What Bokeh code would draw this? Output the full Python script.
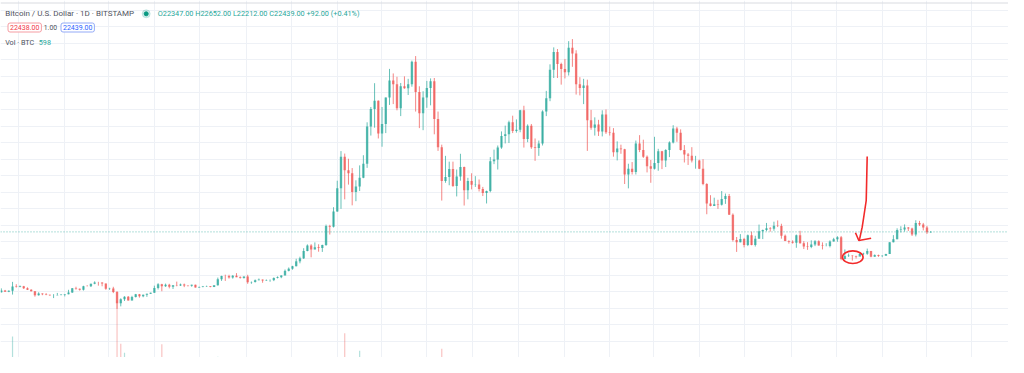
from datetime import date
from bokeh.plotting import figure
from bokeh.models import Range1d, ColumnDataSource, Grid, FixedTicker, Span, Label
from bokeh.embed import file_html
from bokeh.resources import INLINE

# ---------------- data (BTC/USD, Bitstamp; 5-day candles) ----------------
start_date = date(2019, 10, 7)
candle_days = 5
first_open = 7870
closes = [8270, 8000, 8230, 9250, 9150, 9320, 8800, 8460, 8100, 7150,
          7560, 7400, 7230, 7120, 7150, 7200, 7260, 7350, 7820, 8820,
          8700, 8440, 9300, 9290, 9900, 10240, 10190, 9980, 8700, 8760,
          7930, 5200, 6200, 6750, 5880, 6730, 7350, 6870, 7260, 7500,
          7770, 8900, 9810, 9320, 9680, 9180, 9570, 9520, 9750, 9470,
          9440, 9680, 9010, 9120, 9260, 9280, 9150, 9530, 10990, 11800,
          11760, 11400, 11850, 11500, 11330, 11650, 10260, 10340, 10780, 10920,
          10690, 10780, 10790, 11300, 11500, 11920, 13030, 13550, 14150, 15330,
          16050, 17800, 19150, 18200, 18700, 18550, 19280, 23850, 23700, 27350,
          32950, 40600, 37300, 36600, 32100, 33400, 35500, 38900, 47900, 52100,
          54100, 46200, 48500, 54900, 59000, 58100, 52300, 57600, 57100, 58100,
          63500, 56200, 51100, 54900, 57200, 58800, 49700, 42900, 34700, 35700,
          37600, 33500, 35800, 38100, 32500, 34700, 33800, 33900, 32800, 31800,
          32300, 39500, 39900, 42800, 45600, 46000, 48900, 46800, 47100, 51800,
          44900, 48100, 42900, 42700, 43800, 51500, 54700, 61600, 65900, 63000,
          61800, 61000, 66900, 65500, 58100, 57200, 57800, 49400, 47600, 48400,
          46700, 50800, 46500, 46400, 41700, 42600, 42400, 36300, 37700, 36900,
          43800, 42200, 40600, 38300, 37700, 39100, 41900, 39700, 42200, 44000,
          47400, 46400, 42200, 41100, 40800, 39700, 39700, 37700, 34000, 29300,
          28700, 29100, 29000, 30400, 31100, 26600, 20500, 19950, 20700, 19300,
          21600, 19300, 20800, 22600, 22900, 23300, 23200, 23950, 23850, 21520,
          20250, 20050, 19800, 21650, 19700, 18900, 18800, 19400, 20150, 19150,
          19050, 19050, 20100, 20650, 21150, 15900, 16600, 16700, 16600, 16450,
          17100, 17130, 17800, 16450, 16840, 16630, 16680, 17120, 19930, 20680,
          22920, 23040, 23470, 23250, 21800, 24580, 24200, 23500, 22350, 22439]
highs = [8800, 8420, 8320, 10370, 9800, 9500, 9400, 9050, 8600, 8150,
         7860, 7600, 7650, 7280, 7400, 7700, 7430, 7410, 8450, 8880,
         9190, 8760, 9430, 9580, 9930, 10500, 10380, 10250, 9980, 8950,
         9180, 8150, 6400, 6900, 6950, 7000, 7460, 7450, 7300, 7520,
         7780, 9450, 10050, 9900, 9950, 9900, 9600, 10430, 9950, 9950,
         9560, 9700, 9700, 9250, 9380, 9450, 9330, 9560, 11400, 11850,
         12100, 12080, 12000, 12480, 11700, 11700, 12080, 10450, 10950, 11180,
         10950, 10950, 10950, 11450, 11700, 11950, 13350, 13850, 14250, 15950,
         16450, 18500, 19420, 19470, 19900, 19450, 19350, 24200, 24150, 28400,
         34800, 41950, 41350, 40100, 37850, 34900, 38500, 40950, 48900, 52600,
         58350, 54200, 52600, 54900, 61800, 60700, 59900, 58400, 60000, 59400,
         63800, 64900, 57600, 56400, 58900, 59500, 59600, 51500, 43500, 40800,
         39400, 39400, 37500, 41300, 38200, 35500, 36600, 35900, 35100, 33300,
         32400, 40500, 42300, 43300, 46700, 48100, 49300, 50500, 49600, 51900,
         52900, 48400, 48500, 45000, 44500, 51800, 56500, 62900, 67000, 66600,
         63300, 64200, 68500, 69000, 66300, 59800, 59400, 59200, 51900, 50100,
         49500, 51800, 52000, 47900, 47500, 44300, 43500, 42500, 38900, 39300,
         44500, 45800, 44700, 40900, 39800, 45400, 42500, 42000, 42400, 44300,
         48200, 47800, 47200, 43400, 41500, 42900, 40800, 39900, 40000, 34200,
         31300, 30700, 30200, 32300, 31700, 31600, 26900, 21200, 21900, 21000,
         21800, 22500, 21500, 24200, 23000, 24600, 23600, 24900, 25200, 24400,
         21800, 20400, 20400, 21800, 22700, 20200, 19950, 20400, 20450, 20400,
         19900, 19700, 20400, 21000, 21400, 21450, 18200, 17200, 16800, 16700,
         17350, 17400, 18400, 17850, 17000, 16950, 16800, 17150, 19950, 21650,
         23300, 23800, 24250, 23600, 23450, 25250, 25100, 24600, 23900, 22652]
lows = [7780, 7950, 7880, 7300, 9000, 9050, 8650, 8400, 8050, 6800,
        7050, 7150, 7150, 7000, 6450, 7100, 7100, 6860, 7350, 7700,
        8480, 8250, 8270, 9250, 9120, 9800, 9450, 9300, 8450, 8430,
        7650, 3850, 4450, 5750, 5850, 5860, 6600, 6560, 6660, 6750,
        7450, 7720, 8530, 8100, 9150, 8800, 8650, 9300, 9380, 9100,
        9250, 9200, 8980, 8950, 9050, 9150, 9050, 9100, 9450, 10600,
        10600, 11150, 11150, 11500, 11150, 11150, 9900, 9900, 10200, 10700,
        10150, 10600, 10400, 10550, 11200, 11250, 11900, 12900, 13300, 14100,
        14850, 15900, 17750, 16300, 18200, 17650, 17600, 19050, 21800, 23500,
        27300, 28000, 30300, 33850, 28850, 29850, 32300, 35400, 37900, 45700,
        47600, 45000, 43000, 46300, 53100, 53300, 51800, 50400, 57000, 55500,
        57500, 51500, 47500, 47000, 52400, 53000, 46000, 42000, 30000, 34300,
        33700, 33300, 31000, 34800, 28800, 30300, 32700, 33300, 32200, 31100,
        29300, 32000, 38800, 37500, 42500, 43800, 43900, 46300, 46400, 46500,
        42800, 44100, 42500, 39600, 40800, 43300, 50400, 54000, 59600, 59600,
        58000, 59500, 60200, 62300, 55600, 55400, 53300, 42000, 47100, 45700,
        45600, 45500, 46100, 45700, 40600, 39700, 41300, 34000, 32950, 36300,
        36300, 41700, 40300, 36800, 34300, 37500, 37200, 37600, 38100, 40500,
        43800, 44200, 42100, 39200, 38600, 39200, 37700, 37600, 33700, 26700,
        28600, 28700, 28000, 28800, 29200, 26550, 20100, 17600, 19900, 18700,
        19000, 19200, 18900, 20800, 20700, 22600, 22500, 22700, 23600, 20800,
        20200, 19600, 19600, 18600, 19600, 18300, 18100, 18500, 19000, 19100,
        18200, 18950, 18700, 20100, 20050, 15600, 15800, 16400, 15500, 16000,
        16700, 16850, 16900, 16300, 16400, 16400, 16350, 16650, 17100, 19900,
        20650, 22300, 22500, 22650, 21450, 21350, 23850, 22800, 21950, 22212]
# notable volume spikes (candle index, thousand BTC, day direction)
vol_candles = [3, 9, 31, 32, 33, 41, 42, 43, 47, 58, 87, 91, 92, 94, 96, 118]
vol_values = [57, 4, 112, 46, 32, 23, 18, 45, 11, 26, 17, 17, 62, 17, 35, 38]
vol_dirs = ["up", "down", "down", "down", "up", "up", "up", "down", "up", "up",
            "up", "up", "down", "down", "up", "down"]
last_price = 22439
legend_title = "Bitcoin / U.S. Dollar · 1D · BITSTAMP"
legend_ohlc = "O22347.00 H22652.00 L22212.00 C22439.00 +92.00 (+0.41%)"
bid_ask = ["22438.00", "1.00", "22439.00"]
vol_title = "Vol · BTC"
last_volume = "598"

# hand-drawn annotation (day offset, price)
arrow_x = [1161.9, 1161.2, 1160.6, 1157.6, 1155.2, 1152.0, 1150.7]
arrow_y = [40644, 34848, 30018, 26396, 23570, 20914, 20358]
arrow_head_x = [1146.2, 1150.7, 1167.2]
arrow_head_y = [22218, 20358, 20914]
circle_center = (1142.6, 16325)
circle_size = (27.6, 3043)

# ---------------- layout helpers ----------------
UP, DOWN = "#26a69a", "#ef5350"
W, H = 1008, 357
X0, X1 = 0.88, 1351.2
Y0, Y1 = -7897, 78318


def px2x(px):
    return X0 + px * (X1 - X0) / W


def py2y(py):
    return Y1 - py * (Y1 - Y0) / H


opens = [first_open] + closes[:-1]  # continuous market: open = previous close
xs = [candle_days * i + 2 for i in range(len(closes))]
colors = [UP if c >= o else DOWN for o, c in zip(opens, closes)]
src = ColumnDataSource(dict(
    x=xs, open=opens, close=closes, high=highs, low=lows,
    top=[max(o, c) for o, c in zip(opens, closes)],
    bottom=[min(o, c) for o, c in zip(opens, closes)],
    color=colors))

p = figure(width=W, height=H, x_range=Range1d(X0, X1), y_range=Range1d(Y0, Y1),
           output_backend="svg", toolbar_location=None, min_border=0,
           x_axis_location=None, y_axis_location=None,
           background_fill_color="white", border_fill_color="white")
p.outline_line_color = None
for g in p.grid:
    g.visible = False
p.extra_y_ranges = {"vol": Range1d(24.7, 575)}

# grid: every other month start, every 4000 USD
month_ticks = []
for yr in (2019, 2020, 2021, 2022, 2023):
    for m in (1, 3, 5, 7, 9, 11):
        d = (date(yr, m, 1) - start_date).days
        if X0 <= d <= X1:
            month_ticks.append(d)
p.add_layout(Grid(dimension=0, ticker=FixedTicker(ticks=month_ticks),
                  grid_line_color="#eef1f6", grid_line_width=1))
p.add_layout(Grid(dimension=1, ticker=FixedTicker(ticks=list(range(-8000, 80000, 4000))),
                  grid_line_color="#eef1f6", grid_line_width=1))
# top separator of the chart window
p.add_layout(Span(location=py2y(2.5), dimension="width", line_color="#d9dbe0", line_width=1))

# volume
vsrc = ColumnDataSource(dict(
    x=[xs[i] for i in vol_candles], top=vol_values,
    color=[UP if d == "up" else DOWN for d in vol_dirs]))
p.vbar(x="x", top="top", bottom=0, width=1.6, source=vsrc, y_range_name="vol",
       fill_color="color", line_color=None, fill_alpha=0.35)

# candles
p.segment(x0="x", y0="low", x1="x", y1="high", source=src, line_color="color",
          line_width=1, line_alpha=0.7)
p.vbar(x="x", top="top", bottom="bottom", width=3.2, source=src,
       fill_color="color", line_color=None, fill_alpha=0.7)

# last price line
p.add_layout(Span(location=last_price, dimension="width", line_color=UP,
                  line_dash="1 2", line_width=1, line_alpha=0.7))

# hand-drawn red mark
p.line(arrow_x, arrow_y, line_color="#f22a2a", line_width=1.6)
p.line(arrow_head_x, arrow_head_y, line_color="#f22a2a", line_width=1.6)
p.ellipse(x=[circle_center[0]], y=[circle_center[1]], width=circle_size[0],
          height=circle_size[1], fill_color=None, line_color="#f22a2a", line_width=1.6)

# legend texts
FONT = "Roboto"


def lab(text, px, py, color, fs="7.2px", **kw):
    p.add_layout(Label(x=px2x(px), y=py2y(py), text=text, text_color=color,
                       text_font=FONT, text_font_size=fs, text_baseline="middle",
                       text_align="left", **kw))


lab(legend_title, 4.7, 13.3, "#50535e", fs="8px")
p.scatter(x=[px2x(145.7)], y=[py2y(13.3)], size=8, color=UP, alpha=0.2)
p.scatter(x=[px2x(145.7)], y=[py2y(13.3)], size=4, color="#089981")
lab(legend_ohlc, 157.3, 13.3, "#26a69a", fs="7.3px")
lab(bid_ask[0], 7.5, 27, "#f23645", fs="7px", border_line_color="#f59ca2",
    border_line_width=1, background_fill_color="white", padding=2, border_radius=2)
lab(bid_ask[1], 43.3, 27, "#50535e", fs="6.8px")
lab(bid_ask[2], 60.5, 27, "#2962ff", fs="7px", border_line_color="#93aaf7",
    border_line_width=1, background_fill_color="white", padding=2, border_radius=2)
lab(vol_title, 4.7, 42.3, "#50535e")
lab(last_volume, 38.3, 42.3, "#26a69a")

open("out.html", "w").write(file_html(p, INLINE))
